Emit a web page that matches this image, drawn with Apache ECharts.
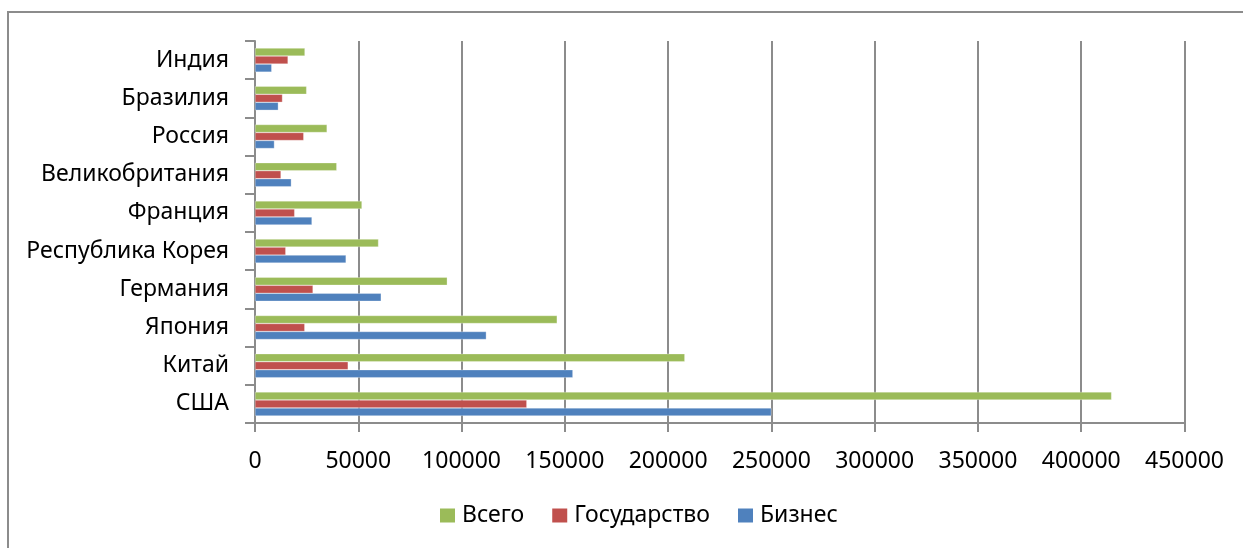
<!DOCTYPE html>
<html><head><meta charset="utf-8">
<script src="https://cdn.jsdelivr.net/npm/echarts@6/dist/echarts.min.js"></script>
<style>
html,body{margin:0;padding:0;background:#fff;}
#frame{position:absolute;left:7px;top:11px;width:1300px;height:600px;border:2px solid #8c8c8c;box-sizing:border-box;}
#c{position:absolute;left:0;top:0;width:1243px;height:548px;}
</style>
</head><body>
<div id="frame"></div>
<div id="c"></div>
<script>
const categories = ['США','Китай','Япония','Германия','Республика Корея','Франция','Великобритания','Россия','Бразилия','Индия'];
const business = [250000,153900,112000,61100,44100,27600,17600,9400,11300,8100];
const government = [131600,45100,24100,28100,14900,19200,12600,23600,13300,16000];
const total = [414700,208100,146300,93100,59800,51800,39600,34900,25000,24200];
const xTicks = {min:0, max:450000, interval:50000};

const font = 'Noto Sans';
const chart = echarts.init(document.getElementById('c'));
function s(name, data, color){
  return {name, type:'bar', data, barWidth:8, barGap:'0%',
    itemStyle:{color, borderColor:'rgba(255,255,255,0.6)', borderWidth:0.5}, animation:false};
}
chart.setOption({
  animation:false,
  grid:{left:255, top:41, right:58.5, bottom:125, containLabel:false},
  legend:{
    data:['Всего','Государство','Бизнес'],
    bottom:16, left:435,
    itemWidth:15, itemHeight:14, itemGap:28,
    itemStyle:{borderWidth:0},
    textStyle:{fontFamily:font, fontSize:23, color:'#000', padding:[0,0,0,2]},
    icon:'rect'
  },
  xAxis:{type:'value', min:xTicks.min, max:xTicks.max, interval:xTicks.interval,
    axisLine:{show:true, lineStyle:{color:'#8c8c8c', width:2}},
    axisTick:{show:true, length:9, lineStyle:{color:'#8c8c8c', width:2}},
    splitLine:{show:true, lineStyle:{color:'#8c8c8c', width:2}},
    axisLabel:{fontFamily:font, fontSize:23, color:'#000', margin:27, formatter:(v)=>String(v)}
  },
  yAxis:{type:'category', data:categories,
    axisLine:{show:true, lineStyle:{color:'#8c8c8c', width:2}},
    axisTick:{show:true, length:10, inside:false, lineStyle:{color:'#8c8c8c', width:2}},
    axisLabel:{fontFamily:font, fontSize:23, color:'#000', margin:26}
  },
  series:[s('Всего', total, '#9BBB59'), s('Государство', government, '#C0504D'), s('Бизнес', business, '#4F81BD')]
});
</script>
</body></html>
